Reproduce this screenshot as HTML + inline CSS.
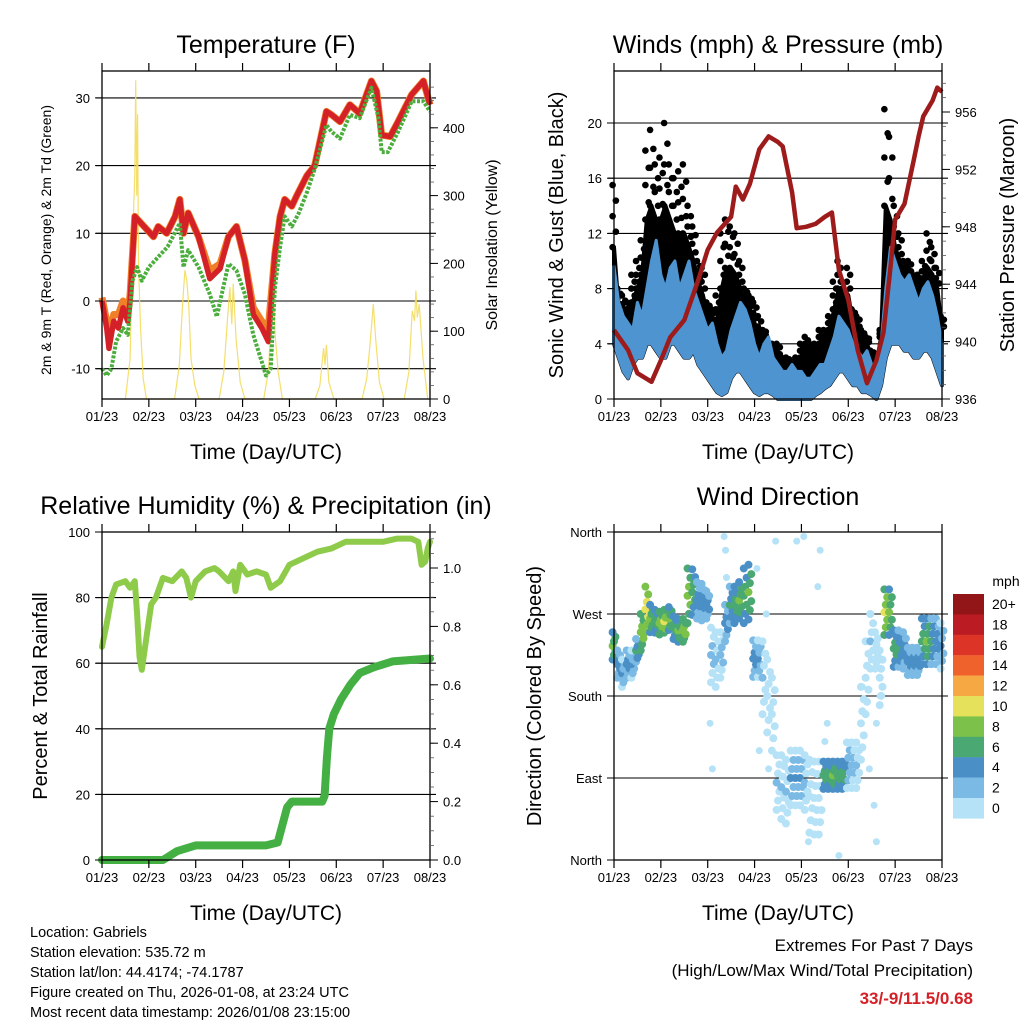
<!DOCTYPE html>
<html><head><meta charset="utf-8"><style>
body{margin:0;background:#fff}
svg{display:block;font-family:"Liberation Sans",sans-serif}
</style></head><body>
<svg id="chart" width="1024" height="1024" viewBox="0 0 1024 1024" xmlns="http://www.w3.org/2000/svg">
<g id="layer"></g>
</svg>
<script>
// ---------- data ----------
const xTickLabels = ["01/23","02/23","03/23","04/23","05/23","06/23","07/23","08/23"];
const tempT   = [0,0.1,0.15,0.25,0.35,0.45,0.55,0.6,0.7,1.1,1.2,1.38,1.56,1.66,1.74,1.84,2.06,2.3,2.52,2.7,2.87,3.05,3.23,3.41,3.55,3.69,3.8,3.9,4.05,4.15,4.37,4.54,4.79,4.9,5.08,5.29,5.5,5.75,5.86,5.97,6.15,6.32,6.61,6.86,7.0];
const tempRed = [0,-4,-7,-3,-4,-1,-3,0,12.5,9.5,11,10,12.5,15,10,13,9.5,3.3,4.8,9.5,11,6,-2,-4,-6,7,12.5,15,14,15.5,18.5,20,28,27.5,26.5,29,27.7,32.5,31,24.5,24.3,26.5,30.5,32.5,29];
const tempOrange = [0.5,-3,-5,-2,-2,0,-2,1,12.5,9.5,11,10,12.5,15,10,13,9.5,4.5,5.5,9.5,11,6,-1,-3,-4,7,12.5,15,14,15.5,18.5,20,28,27.5,26.5,29,27.7,32.5,31,24.5,24.3,26.5,30.5,32.5,29];
const dewT  = [0,0.1,0.2,0.3,0.45,0.55,0.65,0.75,0.85,1.0,1.2,1.4,1.55,1.66,1.74,1.84,2.06,2.3,2.45,2.7,2.87,3.05,3.23,3.41,3.5,3.6,3.69,3.8,3.9,4.05,4.2,4.37,4.54,4.79,4.9,5.08,5.29,5.5,5.75,5.9,5.97,6.1,6.32,6.61,6.86,7.0];
const dewV  = [-10,-11,-10,-6,-4,-5,3,5,3,5,6.5,8,10,11.5,5,7.5,5,1,-2.3,5.5,4.5,1,-5,-9,-11,-10,2,8,12.5,11,13,16,19.5,26,25,24,27.5,27,31.5,27,22,22,25,29.5,29.5,28];
const solarT = [0.5,0.6,0.66,0.7,0.72,0.74,0.76,0.78,0.82,0.88,0.95, 1.55,1.65,1.72,1.77,1.81,1.85,1.9,1.98,2.07, 2.5,2.6,2.68,2.73,2.77,2.8,2.86,2.95,3.05, 3.45,3.55,3.6,3.64,3.66,3.7,3.76,3.85, 4.55,4.65,4.7,4.73,4.76,4.79,4.84,4.95, 5.55,5.65,5.72,5.79,5.84,5.92,6.02, 6.45,6.55,6.62,6.67,6.7,6.73,6.77,6.85,6.95];
const solarV = [0,60,250,330,470,300,420,200,110,30,0, 0,50,140,190,175,140,60,20,0, 0,40,120,165,110,170,90,25,0, 0,40,100,140,150,90,40,0, 0,20,55,75,50,80,25,0, 0,30,80,140,90,25,0, 0,40,130,115,160,120,140,60,0];
const windT = [0,0.1,0.2,0.3,0.4,0.5,0.6,0.7,0.8,0.9,1.0,1.1,1.2,1.3,1.4,1.5,1.6,1.7,1.8,1.9,2.0,2.1,2.2,2.3,2.4,2.5,2.6,2.7,2.8,2.9,3.0,3.1,3.2,3.3,3.4,3.5,3.6,3.7,3.8,3.9,4.0,4.1,4.2,4.3,4.4,4.5,4.6,4.7,4.8,4.9,5.0,5.1,5.2,5.3,5.4,5.5,5.6,5.7,5.8,5.9,6.0,6.1,6.2,6.3,6.4,6.5,6.6,6.7,6.8,6.9,7.0];
const windHi = [9.6,7,6,5.5,5,7,6,8,10,11.5,9,8,9.5,10,8,9,10,8,7,6,5,5.5,4,3,3.5,5,6,7,6.5,5.5,4,3,4,4.5,3,2.5,2,2,2.5,2,2,1.5,1.5,2,2.5,2.5,3.5,4.5,6,5.5,5,4,3.5,3,3.5,2.5,2,4,8,11,10,9,8.5,9,8,7,8,8.5,7.5,6,4];
const windLo = [4,3,2,1.5,2.5,3,3,4,4,3.5,3,3,4,4,3.5,3,3,3.5,2.5,2,1.5,1,0.5,0.3,0.5,1.5,2,2,1.5,1,0.5,0.3,0.5,0.5,0.3,0,0,0,0,0,0,0,0,0.3,0.5,0.8,1,1.5,2,2,1.5,1,1,0.5,0.5,0.3,0,1,3,4,4,4,3.5,3.5,3,3,3.5,3.5,3,2,1];
const gustHi = [15.5,8,7.5,7,9,10,11.5,18,19.5,17,17.5,20,17,16,16.5,17,14,12.5,10,9.5,7,6.5,7.5,12,13,12.5,12,10,8,7.5,7,6,5,4,4,4,3,3,2.5,3,4,4.5,4,4,5,5,6,8.5,10,8,9.5,6.5,6,5,4.5,3.5,3,5,21,19,14,12,10,10,9,9,10,12,11,9.5,6];
const gustMid = [11,6.5,6,6,7,8,9,13,14,13,13,14,13,12,12,12,11,10,8.5,7.5,6,5.5,5.5,8,9.5,9.5,9,8,7,6.5,5.5,4.5,4.5,3.5,3.5,3,2.5,2.5,2.2,2.5,3,3.5,3,3,4,4,5,6.5,8,7,7.5,5.5,5,4,4,3,2.5,4.5,14,13,11,10,9,9,8,8,8.5,9.5,9,8,5];
const presT = [0,0.3,0.5,0.8,1.0,1.2,1.5,1.8,2.0,2.2,2.5,2.6,2.75,2.9,3.1,3.3,3.5,3.6,3.8,3.9,4.1,4.3,4.5,4.65,4.8,5.0,5.2,5.4,5.6,5.75,5.9,6.0,6.2,6.4,6.5,6.6,6.8,6.9,7.0];
const presV = [940.8,939.4,937.8,937.2,938.7,940.3,941.5,944.3,946.4,947.6,948.7,950.8,949.9,951,953.4,954.3,953.9,953.6,950.4,947.9,948,948.2,948.7,949,945,942.9,939.4,937.1,938.7,940.6,945.2,948.5,949.6,952.7,954.3,955.7,956.8,957.7,957.4];
const rhT = [0,0.1,0.2,0.3,0.5,0.6,0.7,0.75,0.8,0.85,0.95,1.05,1.15,1.3,1.5,1.7,1.8,1.9,2.0,2.2,2.4,2.5,2.7,2.8,2.85,2.95,3.1,3.3,3.5,3.6,3.8,4.0,4.3,4.6,4.9,5.2,5.5,5.8,6.0,6.3,6.6,6.75,6.82,6.9,6.95,7.0];
const rhV = [65,72,80,84,85,83,85,75,62,58,68,78,80,86,85,88,86,80,85,88,89,88,85,88,82,90,87,88,87,83,85,90,92,94,95,97,97,97,97,98,98,97,90,91,95,97];
const prT = [0,1.3,1.4,1.6,1.8,2.0,3.5,3.75,3.85,3.95,4.05,4.2,4.7,4.75,4.8,4.85,4.95,5.1,5.3,5.5,5.8,6.2,7.0];
const prV = [0,0,0.01,0.03,0.04,0.05,0.05,0.06,0.12,0.18,0.2,0.2,0.2,0.22,0.35,0.45,0.5,0.55,0.6,0.64,0.66,0.68,0.69];
const dirMid = [235,215,205,215,215,230,250,275,265,262,260,262,265,255,252,252,290,294,285,283,280,225,220,225,260,280,280,285,290,294,221,221,200,180,160,85,80,75,90,90,90,85,70,68,68,93,93,93,93,93,104,104,104,150,200,240,230,200,272,272,232,232,230,218,218,218,240,240,240,240,235];
const dirSpread = [30,30,30,30,30,25,40,50,30,25,25,25,25,25,25,25,60,50,40,40,30,60,60,50,40,40,40,40,60,60,40,40,80,80,80,60,70,70,60,60,60,60,80,80,80,30,30,30,30,30,50,50,50,80,80,60,40,60,50,50,40,40,40,30,30,30,50,50,50,50,50];
const dirSpd = [7,4,3,4,3,5,8,10,7,6,8,9,7,6,7,8,8,6,4,4,4,2,1,2,4,5,6,7,6,7,4,3,1,0,0,1,1,1,3,3,3,1,0,0,0,6,6,7,6,6,3,2,1,0,0,1,0,0,9,7,6,5,4,4,4,4,6,7,5,4,3];
const strayT = [2.35,2.38,2.4,2.05,2.1,3.05,3.45,3.1,3.9,4.05,4.35,4.4,4.5,4.55,4.15,4.8,5.3,5.45,5.55,5.6,5.6,5.68,3.25,3.3];
const strayD = [355,340,310,150,100,320,350,120,350,355,300,340,130,150,20,5,190,100,60,20,150,180,270,100];
const speedLabels = ["20+","18","16","14","12","10","8","6","4","2","0"];
const speedColors = ["#921518","#bb1b23","#dc3427","#f0622c","#f6a843","#e6e15a","#7cc24a","#4aa872","#4a8fc6","#7bbae4","#b5e2f7"];

// ---------- helpers ----------
const NS="http://www.w3.org/2000/svg";
const layer=document.getElementById('layer');
function mk(tag,attrs,parent){const e=document.createElementNS(NS,tag);for(const k in attrs)e.setAttribute(k,attrs[k]);(parent||layer).appendChild(e);return e;}
function txt(s,x,y,size,anchor,parent,extra){const t=mk('text',Object.assign({x:x,y:y,'font-size':size,'text-anchor':anchor||'middle',fill:'#000'},extra||{}),parent);t.textContent=s;return t;}
function pathFrom(xs,ys,fx,fy){let d='';for(let i=0;i<xs.length;i++)d+=(i?'L':'M')+fx(xs[i]).toFixed(1)+','+fy(ys[i]).toFixed(1);return d;}
const PW=328,PH=328;
function xScale(x0){return d=>x0+d/7*PW;}
function xAxis(g,x0,y0){
  const fx=xScale(x0);
  for(let i=0;i<8;i++){const X=fx(i);
    mk('line',{x1:X,y1:y0+PH,x2:X,y2:y0+PH+8,stroke:'#000','stroke-width':1.2},g);
    mk('line',{x1:X,y1:y0,x2:X,y2:y0-8,stroke:'#000','stroke-width':1.2},g);
    const t=txt(xTickLabels[i],X,y0+PH+22,13,'middle',g);
    
    
  }
  const tt=txt('Time (Day/UTC)',x0+PW/2,y0+PH+60,21,'middle',g);
  
  
}
function frame(g,x0,y0){mk('rect',{x:x0,y:y0,width:PW,height:PH,fill:'none',stroke:'#000','stroke-width':1.3},g);}
function grid(g,x0,ys){ys.forEach(Y=>mk('line',{x1:x0-6,y1:Y,x2:x0+PW+6,y2:Y,stroke:'#000','stroke-width':1.1},g));}
function leftTicks(g,x0,vals,fy,labels){vals.forEach((v,i)=>{const Y=fy(v);mk('line',{x1:x0-7,y1:Y,x2:x0,y2:Y,stroke:'#000'},g);
  const t=txt(labels?labels[i]:String(v),x0-12,Y+5,13,'end',g);});}
function rightTicks(g,x0,vals,fy,labels,minorVals){const xr=x0+PW;
  (minorVals||[]).forEach(v=>{const Y=fy(v);mk('line',{x1:xr,y1:Y,x2:xr+4,y2:Y,stroke:'#555','stroke-width':0.8},g);});
  vals.forEach((v,i)=>{const Y=fy(v);mk('line',{x1:xr,y1:Y,x2:xr+8,y2:Y,stroke:'#000'},g);
  const t=txt(labels?labels[i]:String(v),xr+13,Y+5,13,'start',g);});}
function vtitle(g,s,x,y,size,name){const t=txt(s,0,0,size,'middle',g,{transform:`translate(${x},${y}) rotate(-90)`});}
function title(g,s,x,y){const t=txt(s,x,y,25,'middle',g);}
function range(a,b,s){const r=[];for(let v=a;v<=b+1e-9;v+=s)r.push(Math.round(v*1000)/1000);return r;}

// ---------- Panel 1: temperature ----------
(function(){
 const g=mk('g',{});
 const x0=102,y0=71,fx=xScale(x0);
 const fy=v=>301-6.77*v, fs=s=>399-0.678*s;
 title(g,'Temperature (F)',266,53);
 grid(g,x0,[-10,0,10,20,30].map(fy));
 const sol=mk('path',{d:pathFrom(solarT,solarV,fx,fs),fill:'none',stroke:'#f3dc5c','stroke-width':1.2,opacity:0.9},g);
 
 const o=mk('path',{d:pathFrom(tempT,tempOrange,fx,fy),fill:'none',stroke:'#f07f2a','stroke-width':7,'stroke-linejoin':'round'},g);
 
 const r=mk('path',{d:pathFrom(tempT,tempRed,fx,fy),fill:'none',stroke:'#d42127','stroke-width':5.5,'stroke-linejoin':'round'},g);
 
 const gr=mk('path',{d:pathFrom(dewT,dewV,fx,fy),fill:'none',stroke:'#4aad3c','stroke-width':4,'stroke-dasharray':'3 1.5','stroke-linejoin':'round'},g);
 
 frame(g,x0,y0);
 leftTicks(g,x0,[-10,0,10,20,30],fy);
 rightTicks(g,x0,[0,100,200,300,400],fs,null,range(0,460,20));
 xAxis(g,x0,y0);
 vtitle(g,'2m & 9m T (Red, Orange) & 2m Td (Green)',51,240,14,'y-axis-title-left');
 vtitle(g,'Solar Insolation (Yellow)',497,245,16,'y-axis-title-right');
})();

// ---------- Panel 2: winds & pressure ----------
(function(){
 const g=mk('g',{});
 const x0=614,y0=71,fx=xScale(x0);
 const fy=v=>399-13.8*v, fp=p=>399-14.35*(p-936);
 title(g,'Winds (mph) & Pressure (mb)',778,53);
 grid(g,x0,[0,4,8,12,16,20].map(fy));
 let d=pathFrom(windT,gustMid,fx,fy);for(let i=windT.length-1;i>=0;i--)d+='L'+fx(windT[i]).toFixed(1)+','+fy(windLo[i]).toFixed(1);
 const gb=mk('path',{d:d+'Z',fill:'#000',stroke:'#000','stroke-width':4,'stroke-linejoin':'round'},g);
 
 for(let i=0;i<windT.length;i++){
  for(let k=0;k<=4;k++){
   const v=gustMid[i]+(gustHi[i]-gustMid[i])*k/4;
   const c=mk('circle',{cx:fx(windT[i]+(k%2?0.04:-0.03)),cy:fy(v),r:3.3,fill:'#000'},g);
   
   
  }
 }
 let d2=pathFrom(windT,windHi,fx,fy);for(let i=windT.length-1;i>=0;i--)d2+='L'+fx(windT[i]).toFixed(1)+','+fy(windLo[i]).toFixed(1);
 const wb=mk('path',{d:d2+'Z',fill:'#4e94d0',stroke:'#4e94d0','stroke-width':3,'stroke-linejoin':'round'},g);
 
 const p=mk('path',{d:pathFrom(presT,presV,fx,fp),fill:'none',stroke:'#9e1b1b','stroke-width':4.5,'stroke-linejoin':'round'},g);
 
 frame(g,x0,y0);
 leftTicks(g,x0,[0,4,8,12,16,20],fy);
 rightTicks(g,x0,[936,940,944,948,952,956],fp,null,range(936,958,1));
 xAxis(g,x0,y0);
 vtitle(g,'Sonic Wind & Gust (Blue, Black)',563,235,20,'y-axis-title-left');
 vtitle(g,'Station Pressure (Maroon)',1014,235,20,'y-axis-title-right');
})();

// ---------- Panel 3: RH & precip ----------
(function(){
 const g=mk('g',{});
 const x0=102,y0=532,fx=xScale(x0);
 const fy=v=>860-3.28*v, fp=p=>860-292*p;
 title(g,'Relative Humidity (%) & Precipitation (in)',266,514);
 grid(g,x0,[0,20,40,60,80,100].map(fy));
 const pr=mk('path',{d:pathFrom(prT,prV,fx,fp),fill:'none',stroke:'#44b043','stroke-width':8,'stroke-linejoin':'round','stroke-linecap':'round'},g);
 
 const rh=mk('path',{d:pathFrom(rhT,rhV,fx,fy),fill:'none',stroke:'#8fcb4a','stroke-width':6,'stroke-linejoin':'round','stroke-linecap':'round'},g);
 
 frame(g,x0,y0);
 leftTicks(g,x0,[0,20,40,60,80,100],fy);
 rightTicks(g,x0,[0,0.2,0.4,0.6,0.8,1.0],fp,['0.0','0.2','0.4','0.6','0.8','1.0'],range(0,1.1,0.05));
 xAxis(g,x0,y0);
 vtitle(g,'Percent & Total Rainfall',47,696,20,'y-axis-title-left');
})();

// ---------- Panel 4: wind direction ----------
(function(){
 const g=mk('g',{});
 const x0=614,y0=532,fx=xScale(x0);
 const fy=d=>860-d*0.9111;
 const col=s=>speedColors[10-Math.max(0,Math.min(10,Math.round(s/2)))];
 title(g,'Wind Direction',778,505);
 grid(g,x0,[90,180,270].map(fy));
 strayT.forEach((t,i)=>{const c=mk('circle',{cx:fx(t),cy:fy(strayD[i]),r:3.5,fill:'#b5e2f7'},g);
  
  });
 const offs=[-1,-0.66,-0.33,0,0.33,0.66,1];
 for(let i=0;i<windT.length;i++){
  offs.forEach((k,j)=>{
   const s=Math.max(0,dirSpd[i]-Math.abs(k)*2.5);
   const c=mk('circle',{cx:fx(windT[i]+((j%3)-1)*0.03),cy:fy(dirMid[i]+k*dirSpread[i]/2),r:4,fill:col(s)},g);
   
   
  });
 }
 frame(g,x0,y0);
 leftTicks(g,x0,[0,90,180,270,360],fy,['North','East','South','West','North']);
 xAxis(g,x0,y0);
 vtitle(g,'Direction (Colored By Speed)',541,696,20,'y-axis-title-left');
 const cb=mk('g',{},g);
 txt('mph',1006,586,14,'middle',cb);
 speedColors.forEach((c,i)=>{const r=mk('rect',{x:953,y:594+i*20.4,width:31,height:20.6,fill:c},cb);
  
  const t=txt(speedLabels[i],992,609+i*20.4,14,'start',cb);});
})();

// ---------- footer ----------
(function(){
 const g=mk('g',{});
 ['Location: Gabriels','Station elevation: 535.72 m','Station lat/lon: 44.4174; -74.1787','Figure created on Thu, 2026-01-08, at 23:24 UTC','Most recent data timestamp: 2026/01/08 23:15:00']
 .forEach((s,i)=>{const t=txt(s,30,937+i*20,14.5,'start',g);});
 const h=mk('g',{});
 txt('Extremes For Past 7 Days',973,951,17,'end',h);
 txt('(High/Low/Max Wind/Total Precipitation)',973,976,17,'end',h);
 const v=txt('33/-9/11.5/0.68',973,1004,17,'end',h,{fill:'#d42127','font-weight':'bold'});
 
})();
</script>
</body></html>
